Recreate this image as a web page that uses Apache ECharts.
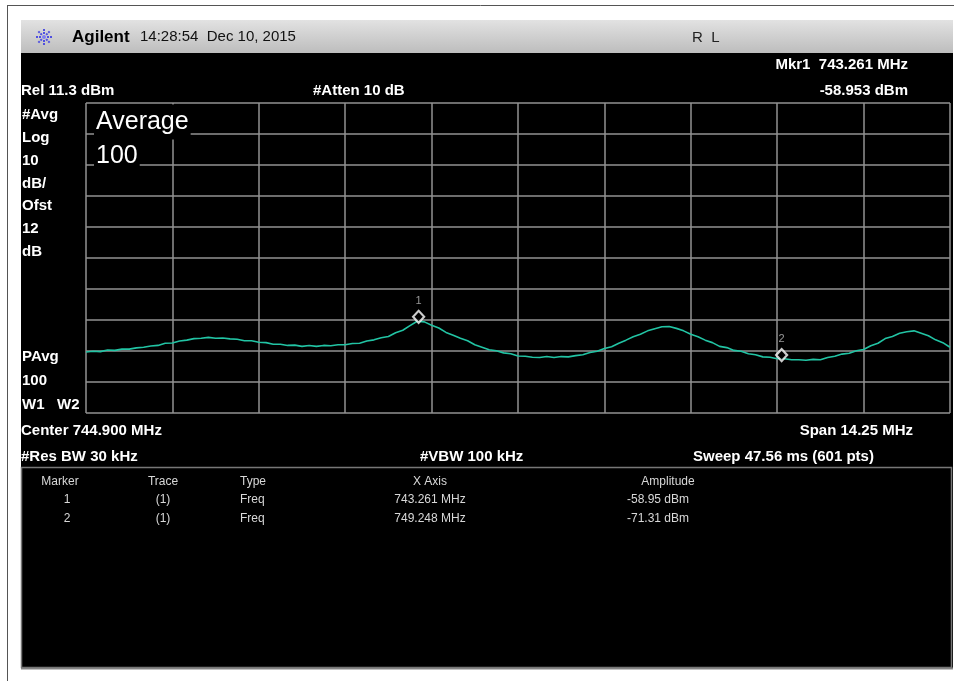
<!DOCTYPE html>
<html>
<head>
<meta charset="utf-8">
<script src="https://cdn.jsdelivr.net/npm/echarts@6/dist/echarts.min.js"></script>
<style>
html,body{margin:0;padding:0;background:#fff;}
#chart{width:954px;height:681px;}
</style>
</head>
<body>
<div id="chart"></div>
<script>
// ---- instrument settings ----
const centerFreq = 744.900;   // MHz
const spanFreq = 14.25;       // MHz
const refLevel = 11.3;        // dBm (top of screen)
const dbPerDiv = 10;
const numDivs = 10;

// ---- trace amplitudes (dBm), evenly spaced across the span ----
const traceAmp = [
 -69.0,-68.8,-68.9,-68.4,-68.5,-68.1,-68.1,-67.7,-67.5,-67.1,
 -66.9,-66.2,-66.1,-65.5,-65.2,-64.7,-64.6,-64.3,-64.6,-64.5,
 -64.8,-64.9,-65.4,-65.4,-65.9,-66.0,-66.5,-66.5,-66.9,-66.8,
 -67.2,-66.9,-67.2,-66.9,-67.0,-66.7,-66.7,-66.3,-66.2,-65.5,
 -65.1,-64.4,-64.0,-62.8,-62.0,-60.5,-59.1,-59.3,-60.4,-61.3,
 -62.7,-63.6,-64.6,-65.4,-66.7,-67.5,-68.3,-68.6,-69.3,-69.6,
 -70.3,-70.4,-70.7,-70.8,-70.5,-70.8,-70.5,-70.6,-70.2,-69.9,
 -69.2,-68.8,-67.9,-67.3,-66.2,-65.2,-64.1,-63.3,-62.2,-61.5,
 -60.9,-60.8,-61.4,-62.2,-63.3,-64.1,-65.2,-66.0,-67.2,-67.6,
 -68.5,-68.8,-69.6,-69.9,-70.6,-70.7,-71.2,-71.2,-71.5,-71.5,
 -71.7,-71.4,-71.5,-70.8,-70.4,-69.7,-69.4,-68.6,-68.2,-67.0,
 -66.2,-64.7,-64.0,-63.0,-62.5,-62.2,-63.0,-63.8,-65.1,-66.0,
 -67.5
];

// ---- markers ----
const markerIds = ['1', '2'];
const markerFreq = [743.261, 749.248];   // MHz
const markerAmp = [-58.95, -71.31];      // dBm

// ---- text tables ----
const leftLabels = ['#Avg','Log','10','dB/','Ofst','12','dB'];
const leftLabelsLow = ['PAvg','100','W1   W2'];
const tableHeader = ['Marker','Trace','Type','X Axis','Amplitude'];
const tableRows = [
  ['1','(1)','Freq','743.261 MHz','-58.95 dBm'],
  ['2','(1)','Freq','749.248 MHz','-71.31 dBm']
];

const startFreq = centerFreq - spanFreq / 2;
const stopFreq = centerFreq + spanFreq / 2;
const bottomLevel = refLevel - dbPerDiv * numDivs;
const step = spanFreq / (traceAmp.length - 1);
const traceData = traceAmp.map((a, i) => [startFreq + i * step, a]);
const markerData = markerFreq.map((f, i) => ({ value: [f, markerAmp[i]], name: markerIds[i] }));

const FONT = "'Liberation Sans', Arial, sans-serif";
const gridL = 86, gridT = 103, gridR = 950, gridB = 413;

function txt(x, y, s, opt) {
  opt = opt || {};
  return {
    type: 'text', x: x, y: y, z: opt.z || 100,
    style: Object.assign({
      text: s, fill: '#ffffff', font: 'bold 15px ' + FONT,
      textAlign: 'left', textVerticalAlign: 'middle'
    }, opt.style || {})
  };
}

const graphics = [];
// outer frame
graphics.push({ type: 'line', z: -20, shape: { x1: 7, y1: 5.5, x2: 954, y2: 5.5 }, style: { stroke: '#555', lineWidth: 1 } });
graphics.push({ type: 'line', z: -20, shape: { x1: 7.5, y1: 5, x2: 7.5, y2: 681 }, style: { stroke: '#555', lineWidth: 1 } });
// header bar
graphics.push({ type: 'rect', z: -20, shape: { x: 21, y: 20, width: 932, height: 33 },
  style: { fill: new echarts.graphic.LinearGradient(0, 0, 0, 1, [{ offset: 0, color: '#e2e2e2' }, { offset: 1, color: '#bdbdbd' }]) } });
// black panel
graphics.push({ type: 'rect', z: -20, shape: { x: 21, y: 53, width: 932, height: 616 }, style: { fill: '#000' } });
graphics.push({ type: 'line', z: -19, shape: { x1: 21, y1: 668.5, x2: 953, y2: 668.5 }, style: { stroke: '#888', lineWidth: 2 } });
// marker table box
graphics.push({ type: 'rect', z: -19, shape: { x: 21.5, y: 467.5, width: 930, height: 200 }, style: { fill: 'none', stroke: '#777', lineWidth: 1.5 } });

// logo star
const cx = 44, cy = 37;
for (let k = 0; k < 8; k++) {
  const ang = k * Math.PI / 4;
  graphics.push({ type: 'line', z: 10, shape: {
      x1: cx + Math.cos(ang) * 3, y1: cy + Math.sin(ang) * 3,
      x2: cx + Math.cos(ang) * 9, y2: cy + Math.sin(ang) * 9 },
    style: { stroke: '#5050e0', lineWidth: 2, lineDash: [2, 1] } });
}
graphics.push({ type: 'circle', z: 10, shape: { cx: cx, cy: cy, r: 2 }, style: { fill: '#8080f0' } });

// header texts
graphics.push(txt(72, 37, 'Agilent', { style: { fill: '#000', font: 'bold 17px ' + FONT } }));
graphics.push(txt(140, 37, '14:28:54  Dec 10, 2015', { style: { fill: '#111', font: '15px ' + FONT } }));
graphics.push(txt(692, 38, 'R  L', { style: { fill: '#222', font: '15px ' + FONT } }));

// top info
graphics.push(txt(908, 65, 'Mkr1  743.261 MHz', { style: { textAlign: 'right' } }));
graphics.push(txt(908, 91, '-58.953 dBm', { style: { textAlign: 'right' } }));
graphics.push(txt(21, 91, 'Rel 11.3 dBm'));
graphics.push(txt(313, 91, '#Atten 10 dB'));

// left labels
leftLabels.forEach((s, i) => graphics.push(txt(22, 115 + i * 22.8, s)));
leftLabelsLow.forEach((s, i) => graphics.push(txt(22, 357 + i * 24, s)));

// Average overlay
graphics.push({ type: 'text', x: 94, y: 122, z: 50, style: { text: 'Average', fill: '#fff', font: '25px ' + FONT,
  textVerticalAlign: 'middle', backgroundColor: '#000', padding: [4, 2, 6, 2] } });
graphics.push({ type: 'text', x: 94, y: 156, z: 50, style: { text: '100', fill: '#fff', font: '25px ' + FONT,
  textVerticalAlign: 'middle', backgroundColor: '#000', padding: [4, 2, 6, 2] } });

// bottom info
graphics.push(txt(21, 431, 'Center 744.900 MHz'));
graphics.push(txt(21, 457, '#Res BW 30 kHz'));
graphics.push(txt(420, 457, '#VBW 100 kHz'));
graphics.push(txt(913, 431, 'Span 14.25 MHz', { style: { textAlign: 'right' } }));
graphics.push(txt(693, 457, 'Sweep 47.56 ms (601 pts)'));

// marker table
const colX = [60, 163, 240, 430, 668];
const colAlign = ['center', 'center', 'left', 'center', 'center'];
tableHeader.forEach((s, j) => graphics.push(txt(colX[j], 482, s, { style: { font: '12px ' + FONT, fill: '#d8d8d8', textAlign: colAlign[j] } })));
tableRows.forEach((row, i) => row.forEach((s, j) =>
  graphics.push(txt(j === 4 ? 658 : colX[j] + (j === 0 ? 7 : 0), 500 + i * 19, s, { style: { font: '12px ' + FONT, fill: '#d8d8d8', textAlign: colAlign[j] } }))));

const chart = echarts.init(document.getElementById('chart'));
chart.setOption({
  backgroundColor: '#fff',
  animation: false,
  grid: { left: gridL, top: gridT, right: 954 - gridR, bottom: 681 - gridB },
  xAxis: [
    { type: 'value', min: startFreq, max: stopFreq, show: false },
    { type: 'value', min: 0, max: numDivs, interval: 1, position: 'bottom',
      axisLine: { show: false }, axisTick: { show: false }, axisLabel: { show: false },
      splitLine: { show: true, lineStyle: { color: '#929292', width: 1.5 } } }
  ],
  yAxis: [
    { type: 'value', min: bottomLevel, max: refLevel, show: false },
    { type: 'value', min: 0, max: numDivs, interval: 1,
      axisLine: { show: false }, axisTick: { show: false }, axisLabel: { show: false },
      splitLine: { show: true, lineStyle: { color: '#929292', width: 1.5 } } }
  ],
  graphic: { elements: graphics },
  series: [
    { type: 'line', xAxisIndex: 0, yAxisIndex: 0, data: traceData, showSymbol: false, smooth: false,
      lineStyle: { color: '#22c4a4', width: 1.6 }, z: 5 },
    { type: 'scatter', xAxisIndex: 0, yAxisIndex: 0, data: markerData, symbol: 'diamond', symbolSize: [11, 12],
      symbolOffset: [0, -4],
      itemStyle: { color: '#000', borderColor: '#fff', borderWidth: 2.2 }, z: 6,
      label: { show: true, position: 'top', distance: 3, formatter: p => p.name, color: '#bbb', fontSize: 11, fontFamily: FONT } }
  ]
});
</script>
</body>
</html>
